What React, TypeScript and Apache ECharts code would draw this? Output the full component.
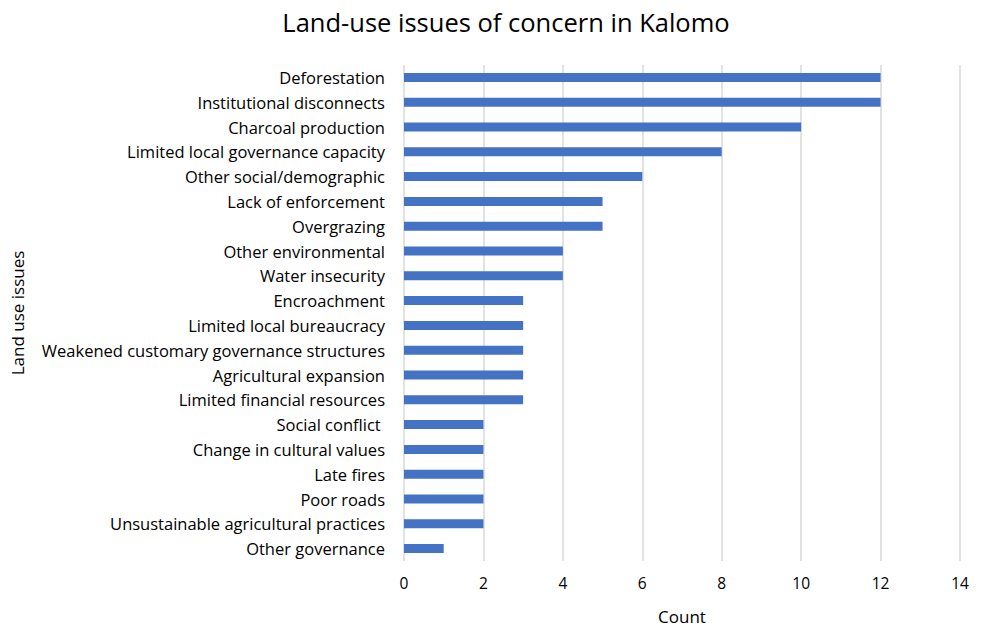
import React, { useEffect, useRef } from "react";
import * as echarts from "echarts";

const categories = [
  "Deforestation",
  "Institutional disconnects",
  "Charcoal production",
  "Limited local governance capacity",
  "Other social/demographic",
  "Lack of enforcement",
  "Overgrazing",
  "Other environmental",
  "Water insecurity",
  "Encroachment",
  "Limited local bureaucracy",
  "Weakened customary governance structures",
  "Agricultural expansion",
  "Limited financial resources",
  "Social conflict ",
  "Change in cultural values",
  "Late fires",
  "Poor roads",
  "Unsustainable agricultural practices",
  "Other governance",
];
const counts = [12, 12, 10, 8, 6, 5, 5, 4, 4, 3, 3, 3, 3, 3, 2, 2, 2, 2, 2, 1];

const FONT = "'Open Sans', 'Noto Sans', sans-serif";

export default function App() {
  const ref = useRef<HTMLDivElement>(null);
  useEffect(() => {
    document.body.style.margin = "0";
    if (!ref.current) return;
    const chart = echarts.init(ref.current, null, { renderer: "svg" });
    chart.setOption({
      animation: false,
      backgroundColor: "#ffffff",
      title: {
        text: "Land-use issues of concern in Kalomo",
        left: 501,
        top: 4,
        textAlign: "center",
        textStyle: { fontFamily: FONT, fontSize: 25.5, fontWeight: "normal", color: "#000" },
      },
      grid: {
        left: 404,
        right: 24,
        top: 65,
        bottom: 66,
        containLabel: false,
        outerBoundsMode: "none",
      },
      xAxis: {
        type: "value",
        min: 0,
        max: 14,
        interval: 2,
        name: "Count",
        nameLocation: "middle",
        nameGap: 47,
        nameTextStyle: { fontFamily: FONT, fontSize: 17, color: "#000" },
        axisLine: { show: false },
        axisTick: { show: false },
        axisLabel: { fontFamily: FONT, fontSize: 15.5, color: "#000", margin: 14 },
        splitLine: { show: true, lineStyle: { color: "#d9d9d9", width: 1.5 } },
      },
      yAxis: {
        type: "category",
        data: categories,
        inverse: true,
        name: "Land use issues",
        nameLocation: "middle",
        nameGap: 378,
        nameRotate: 90,
        nameTextStyle: { fontFamily: FONT, fontSize: 17, color: "#000" },
        axisLine: { show: false },
        axisTick: { show: false },
        axisLabel: { fontFamily: FONT, fontSize: 16.5, color: "#000", margin: 19 },
        splitLine: { show: false },
      },
      series: [
        {
          type: "bar",
          data: counts,
          barWidth: 9,
          itemStyle: { color: "#4472c4" },
        },
      ],
    });
    return () => chart.dispose();
  }, []);
  return <div ref={ref} style={{ width: 984, height: 627 }} />;
}
